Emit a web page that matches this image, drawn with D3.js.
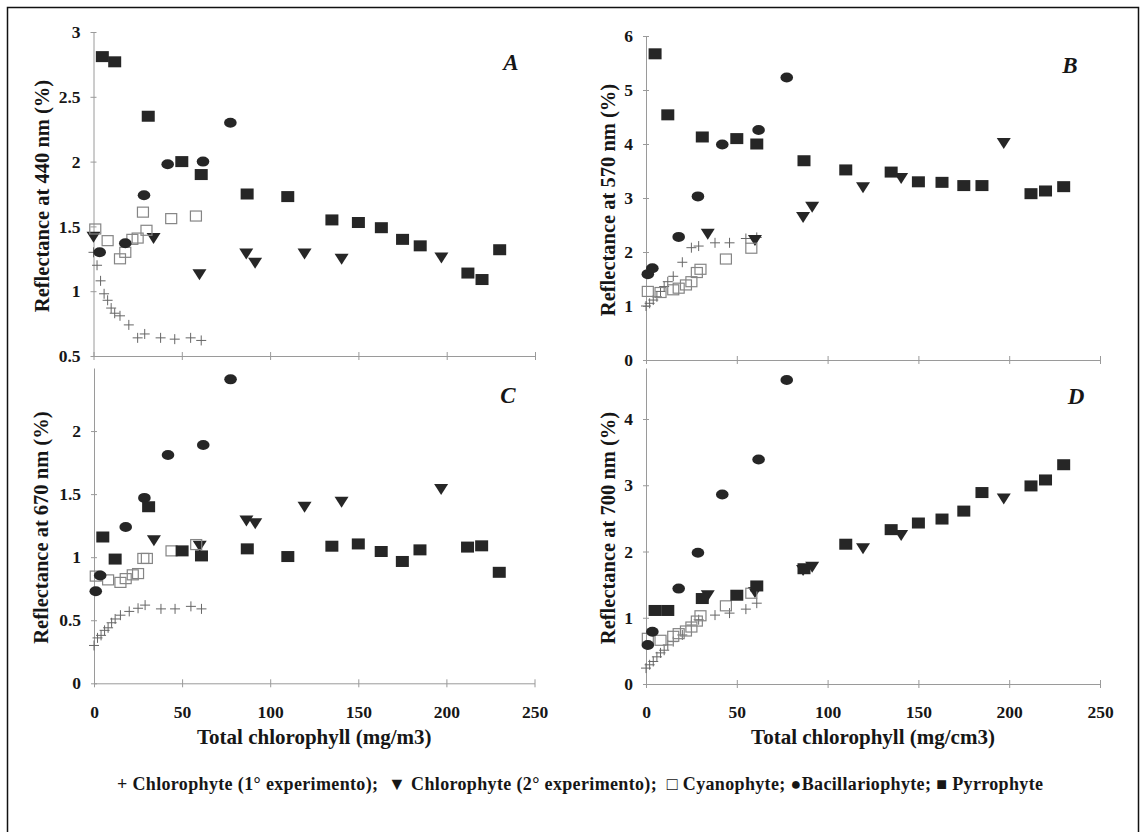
<!DOCTYPE html>
<html>
<head>
<meta charset="utf-8">
<script src="https://cdn.jsdelivr.net/npm/d3@7"></script>
<style>
    body { margin: 0; background: #fff; }
    svg text {
        font-family: 'Liberation Serif', 'Times New Roman', serif;
        font-weight: bold;
        fill: #161616;
    }
</style>
</head>
<body>
<svg id="chart" width="1145" height="832"></svg>
<script>
// x values (total chlorophyll) of each culture series
const chl1X  = [0, 2, 4, 6, 8, 10, 12, 15, 20, 25, 29, 38, 46, 55, 61];
const chl2X  = [0, 34, 60, 86.5, 91.5, 119.5, 140.5, 197];
const cyanoX = [1, 8, 15, 18, 22, 25, 28, 30, 44, 58];
const bacilX = [1, 3.5, 18, 28.6, 42, 62, 77.5];
const pyrroX = [5, 12, 31, 50, 61, 87, 110, 135, 150, 163, 175, 185, 212, 220, 230];

// A - reflectance at 440 nm
const r440Chl1  = [1.30, 1.20, 1.08, 0.98, 0.93, 0.87, 0.83, 0.81, 0.74, 0.64, 0.67, 0.64, 0.63, 0.64, 0.62];
const r440Chl2  = [1.42, 1.41, 1.13, 1.29, 1.22, 1.29, 1.25, 1.26];
const r440Cyano = [1.48, 1.39, 1.25, 1.30, 1.40, 1.41, 1.61, 1.47, 1.56, 1.58];
const r440Bacil = [null, 1.30, 1.37, 1.74, 1.98, 2.00, 2.30];
const r440Pyrro = [2.81, 2.77, 2.35, 2.00, 1.90, 1.75, 1.73, 1.55, 1.53, 1.49, 1.40, 1.35, 1.14, 1.09, 1.32];

// B - reflectance at 570 nm
const r570Chl1  = [1.00, 1.05, 1.11, 1.17, 1.27, 1.36, 1.45, 1.55, 1.81, 2.08, 2.11, 2.17, 2.17, 2.25, 2.27];
const r570Chl2  = [null, 2.34, 2.22, 2.65, 2.84, 3.20, 3.37, 4.02];
const r570Cyano = [1.27, 1.25, 1.30, 1.33, 1.39, 1.45, 1.62, 1.68, 1.87, 2.07];
const r570Bacil = [1.59, 1.70, 2.28, 3.03, 3.99, 4.26, 5.23];
const r570Pyrro = [5.67, 4.54, 4.13, 4.10, 4.00, 3.69, 3.52, 3.48, 3.30, 3.29, 3.23, 3.23, 3.08, 3.13, 3.21];

// C - reflectance at 670 nm
const r670Chl1  = [0.30, 0.36, 0.38, 0.42, 0.44, 0.48, 0.51, 0.54, 0.57, 0.595, 0.62, 0.59, 0.59, 0.61, 0.59];
const r670Chl2  = [null, 1.135, 1.09, 1.29, 1.27, 1.40, 1.44, 1.54];
const r670Cyano = [0.85, 0.82, 0.80, 0.83, 0.86, 0.87, 0.99, 0.99, 1.05, 1.10];
const r670Bacil = [0.73, 0.855, 1.24, 1.47, 1.81, 1.89, 2.41];
const r670Pyrro = [1.16, 0.985, 1.40, 1.05, 1.01, 1.066, 1.005, 1.087, 1.105, 1.045, 0.966, 1.058, 1.08, 1.09, 0.88];

// D - reflectance at 700 nm
const r700Chl1  = [0.24, 0.29, 0.34, 0.41, 0.47, 0.51, 0.59, 0.64, 0.74, 0.89, 0.97, 1.04, 1.07, 1.13, 1.22];
const r700Chl2  = [null, 1.34, 1.39, 1.72, 1.77, 2.05, 2.25, 2.80];
const r700Cyano = [0.69, 0.66, 0.72, 0.76, 0.80, 0.86, 0.95, 1.03, 1.18, 1.37];
const r700Bacil = [0.59, 0.79, 1.44, 1.98, 2.86, 3.39, 4.59];
const r700Pyrro = [1.11, 1.11, 1.29, 1.34, 1.48, 1.74, 2.11, 2.33, 2.43, 2.49, 2.61, 2.89, 2.99, 3.08, 3.31];

const xTicks = [0, 50, 100, 150, 200, 250];
const legendText = '+ Chlorophyte (1° experimento);  \u25BC Chlorophyte (2° experimento);  \u25A1 Cyanophyte; \u25CFBacillariophyte; \u25A0 Pyrrophyte';

const panels = [
    { letter: 'A', title: 'Reflectance at 440 nm (%)', xTitle: null,
      xr: [93.5, 535], yd: [0.5, 3], yr: [356, 32], yTicks: [0.5, 1, 1.5, 2, 2.5, 3],
      yTitleX: 42, letterPos: [511, 70],
      ys: [r440Chl1, r440Chl2, r440Cyano, r440Bacil, r440Pyrro] },
    { letter: 'B', title: 'Reflectance at 570 nm (%)', xTitle: null,
      xr: [646, 1100], yd: [0, 6], yr: [360, 36], yTicks: [0, 1, 2, 3, 4, 5, 6],
      yTitleX: 608, letterPos: [1070, 73],
      ys: [r570Chl1, r570Chl2, r570Cyano, r570Bacil, r570Pyrro] },
    { letter: 'C', title: 'Reflectance at 670 nm (%)', xTitle: 'Total chlorophyll (mg/m3)',
      xr: [94, 534.5], yd: [0, 2.5], yr: [683.3, 368], yTicks: [0, 0.5, 1, 1.5, 2],
      yTitleX: 41, letterPos: [508, 403],
      ys: [r670Chl1, r670Chl2, r670Cyano, r670Bacil, r670Pyrro] },
    { letter: 'D', title: 'Reflectance at 700 nm (%)', xTitle: 'Total chlorophyll (mg/cm3)',
      xr: [646, 1100], yd: [0, 4.77], yr: [684, 368], yTicks: [0, 1, 2, 3, 4],
      yTitleX: 608, letterPos: [1076, 404],
      ys: [r700Chl1, r700Chl2, r700Cyano, r700Bacil, r700Pyrro] },
];

const seriesX = [chl1X, chl2X, cyanoX, bacilX, pyrroX];
const kinds   = ['cross', 'triangle', 'open', 'circle', 'square'];
const dark = '#262626';

const svg = d3.select('#chart');

svg.append('rect').attr('width', 1145).attr('height', 832).attr('fill', '#fff');

// frame round the figure
svg.append('path')
    .attr('d', 'M7.5,840V7.5H1138.5V840')
    .attr('fill', 'none')
    .attr('stroke', '#111')
    .attr('stroke-width', 1.5);

function drawPanel(p) {
    const x = d3.scaleLinear().domain([0, 250]).range(p.xr);
    const y = d3.scaleLinear().domain(p.yd).range(p.yr);
    const g = svg.append('g');

    const xAxis = d3.axisBottom(x).tickValues(xTicks).tickSizeInner(4).tickSizeOuter(0).tickPadding(18)
        .tickFormat(p.xTitle ? d3.format('d') : '');
    const yAxis = d3.axisLeft(y).tickValues(p.yTicks).tickSizeInner(4).tickSizeOuter(0).tickPadding(9)
        .tickFormat(d => String(d));

    const gx = g.append('g')
        .attr('transform', `translate(0,${p.yr[0]})`)
        .call(xAxis);
    gx.selectAll('.tick line').attr('y1', -4).attr('y2', 4);

    const gy = g.append('g')
        .attr('transform', `translate(${p.xr[0]},0)`)
        .call(yAxis);
    gy.selectAll('.tick line').attr('x1', -3).attr('x2', 3);

    g.selectAll('.domain, .tick line').attr('stroke', '#9a9a9a').attr('stroke-width', 1);
    g.selectAll('.tick text').style('font-size', '17.5px');

    // y title
    g.append('text')
        .attr('transform', `translate(${p.yTitleX},${(p.yr[0] + p.yr[1]) / 2 + 2}) rotate(-90)`)
        .attr('text-anchor', 'middle')
        .attr('dominant-baseline', 'central')
        .style('font-size', '20.5px')
        .text(p.title);

    if (p.xTitle) {
        g.append('text')
            .attr('x', (p.xr[0] + p.xr[1]) / 2)
            .attr('y', 744)
            .attr('text-anchor', 'middle')
            .style('font-size', '21px')
            .text(p.xTitle);
    }

    g.append('text')
        .attr('x', p.letterPos[0])
        .attr('y', p.letterPos[1])
        .attr('text-anchor', 'middle')
        .style('font-size', '23px')
        .style('font-style', 'italic')
        .text(p.letter);

    // markers
    kinds.forEach((kind, k) => {
        const pts = seriesX[k].map((d, i) => [d, p.ys[k][i]]).filter(d => d[1] != null);
        const sel = g.append('g').selectAll('.m').data(pts).enter();
        if (kind === 'cross') {
            sel.append('path')
                .attr('d', d => `M${x(d[0]) - 5},${y(d[1])}h10M${x(d[0])},${y(d[1]) - 5}v10`)
                .attr('stroke', '#666').attr('stroke-width', 1).attr('fill', 'none');
        } else if (kind === 'open') {
            sel.append('rect')
                .attr('x', d => x(d[0]) - 5.5).attr('y', d => y(d[1]) - 5)
                .attr('width', 11).attr('height', 10)
                .attr('fill', 'none').attr('stroke', '#858585').attr('stroke-width', 1.2);
        } else if (kind === 'circle') {
            sel.append('ellipse')
                .attr('cx', d => x(d[0])).attr('cy', d => y(d[1]))
                .attr('rx', 6.3).attr('ry', 5)
                .attr('fill', dark);
        } else if (kind === 'triangle') {
            sel.append('path')
                .attr('d', d => {
                    const cx = x(d[0]), cy = y(d[1]);
                    return `M${cx - 7},${cy - 5}L${cx + 7},${cy - 5}L${cx},${cy + 6}Z`;
                })
                .attr('fill', dark);
        } else {
            sel.append('rect')
                .attr('x', d => x(d[0]) - 6.5).attr('y', d => y(d[1]) - 5.5)
                .attr('width', 13).attr('height', 11)
                .attr('fill', dark);
        }
    });
}

panels.forEach(drawPanel);

svg.append('text')
    .attr('x', 117)
    .attr('y', 790)
    .attr('textLength', 926)
    .attr('lengthAdjust', 'spacing')
    .style('font-size', '18px')
    .attr('xml:space', 'preserve')
    .text(legendText);
</script>
</body>
</html>
